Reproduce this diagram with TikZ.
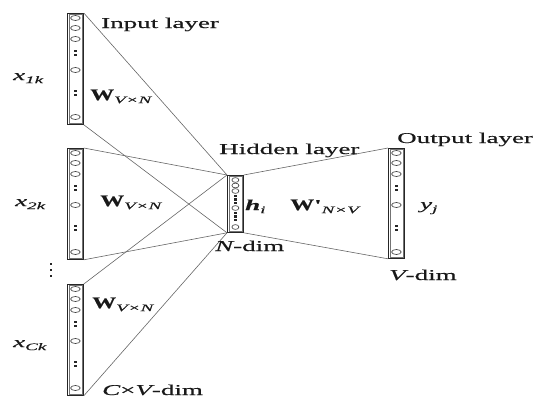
\documentclass[tikz,border=0pt]{standalone}
\usepackage{fontspec}
\setmainfont[FakeBold=0.5]{Liberation Serif}
\newfontfamily\heavyserif[FakeBold=0.5]{Liberation Serif}
\usetikzlibrary{calc}

% wide lettering: glyphs stretched horizontally
\newcommand\hstretch[2][1.8]{\scalebox{#1}[1]{#2}}
\newcommand\lowsub[1]{\raisebox{-0.45ex}{\fontsize{10}{12}\selectfont\hstretch[1.9]{\itshape #1}}}
\newcommand\boldW{\hstretch[1.5]{\fontsize{16}{18}\selectfont\bfseries W}}

\begin{document}
\begin{tikzpicture}[x=1pt,y=-1pt,
  lbl/.style={inner sep=0pt, anchor=base west, text=black!90,
              font=\heavyserif\fontsize{15}{18}\selectfont\addfontfeature{FakeBold=0.35}},
  col/.style={draw=black!85, line width=0.8pt, fill=white, inner sep=0pt,
              minimum width=16pt, minimum height=111pt, anchor=north west},
  hidcol/.style={col, minimum height=57pt},
  conn/.style={draw=black!60, line width=0.6pt},
  unit/.style={draw=black!75, line width=0.65pt},
  dotc/.style={fill=black!85},
  inner/.style={draw=black!55, line width=0.4pt},
  % units of a V-dim column: three, dots, one, dots, one
  vunits/.pic={
    \foreach \yy in {5,15,26,57,104}
      \draw[unit] (0,\yy) ellipse [x radius=4.8pt, y radius=2.5pt];
    \foreach \yy in {38,41.8,78,81.8}
      \fill[dotc] (-1.3,\yy-1.3) rectangle (1.3,\yy+1.3);
  },
  % units of the N-dim hidden column
  nunits/.pic={
    \foreach \yy in {5,10.5,16,33,52}
      \draw[unit] (0,\yy) ellipse [x radius=3.5pt, y radius=2.4pt];
    \foreach \yy in {21,24.5,28,38,41.5,45}
      \fill[dotc] (-1.1,\yy-1.1) rectangle (1.1,\yy+1.1);
  }]

\useasboundingbox (0,0) rectangle (544,399);

% columns
\node[col] (in1) at (67,13) {};
\node[col] (in2) at (67,148) {};
\node[col] (in3) at (67,284) {};
\node[hidcol] (hid) at (227,175) {};
\node[col, minimum height=110pt] (out) at (388,148) {};

% weight connectors
\draw[conn] (in1.north east) -- (hid.north west);
\draw[conn] (in1.south east) -- (hid.south west);
\draw[conn] (in2.north east) -- (hid.north west);
\draw[conn] (in2.south east) -- (hid.south west);
\draw[conn] (in3.north east) -- (hid.north west);
\draw[conn] (in3.south east) -- (hid.south west);
\draw[conn] (hid.north east) -- (out.north west);
\draw[conn] (hid.south east) -- (out.south west);

% inner frame lines of the columns
\foreach \c in {in1,in2,in3,hid,out}
  \draw[inner] ($(\c.north west)+(2,1.5)$) rectangle ($(\c.south east)+(-2,-1.5)$);

% units
\pic at (in1.north) {vunits};
\pic at (in2.north) {vunits};
\pic at (in3.north) {vunits};
\pic at (out.north) {vunits};
\pic at (hid.north) {nunits};

% vertical ellipsis between the input groups
\foreach \yy in {264,270,276}
  \fill[dotc] (49.7,\yy-1.3) rectangle (52.3,\yy+1.3);

% layer captions
\node[lbl] (tin)  at (101,28)  {\hstretch{Input layer}};
\node[lbl] (thid) at (219,154) {\hstretch{Hidden layer}};
\node[lbl] (tout) at (397,143) {\hstretch{Output layer}};
\node[lbl] (tnd)  at (215,251) {\hstretch{\itshape N\upshape-dim}};
\node[lbl] (tvd)  at (389,280) {\hstretch{\itshape V\upshape-dim}};
\node[lbl] (tcvd) at (102,395) {\hstretch{\itshape C\upshape×\itshape V\upshape-dim}};

% input words
\node[lbl] (x1) at (13,80)  {\hstretch{\itshape x}\lowsub{1k}};
\node[lbl] (x2) at (15,206) {\hstretch{\itshape x}\lowsub{2k}};
\node[lbl] (xc) at (13,347) {\hstretch{\itshape x}\lowsub{Ck}};

% weight matrices
\node[lbl] (w1) at (90,100)  {\boldW\lowsub{V×N}};
\node[lbl] (w2) at (100,206) {\boldW\lowsub{V×N}};
\node[lbl] (w3) at (92,308)  {\boldW\lowsub{V×N}};
\node[lbl] (w4) at (290,210) {\boldW\hstretch{\bfseries '}\lowsub{N×V}};

% hidden and output units
\node[lbl] (hi) at (245,210) {\hstretch{\bfseries\itshape h}\lowsub{i}};
\node[lbl] (yj) at (420,209) {\hstretch{\itshape y}\lowsub{j}};

\end{tikzpicture}
\end{document}
